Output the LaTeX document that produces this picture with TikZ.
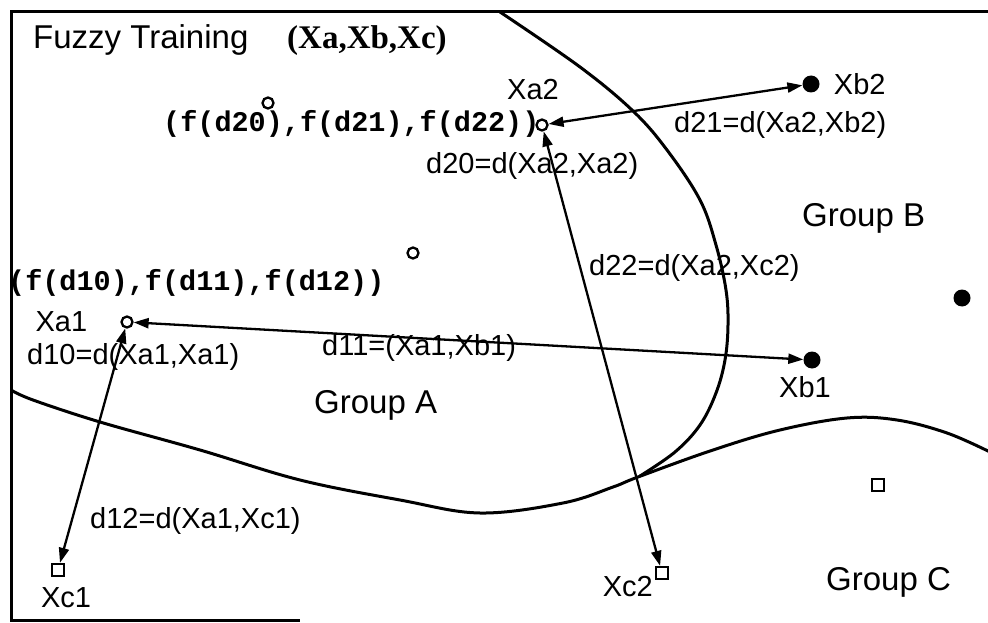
\documentclass[tikz,border=0pt]{standalone}
\usepackage{fontspec}
\setmainfont{Liberation Sans}
\newfontfamily\codefont{Liberation Mono}
\newfontfamily\tuplefont{Liberation Serif}
\usetikzlibrary{arrows.meta,positioning}

\begin{document}
\begin{tikzpicture}[x=1pt,y=-1pt,
  lbl/.style={font=\fontsize{29}{31}\selectfont, inner sep=0pt},
  grouplbl/.style={font=\fontsize{33}{36}\selectfont, inner sep=0pt},
  memb/.style={font=\fontsize{28.5}{30}\selectfont\codefont\bfseries, inner sep=0pt},
  opendot/.style={circle, draw, line width=2.3pt, minimum size=11pt, inner sep=0pt},
  fulldot/.style={circle, fill, minimum size=17pt, inner sep=0pt},
  sqbox/.style={rectangle, draw, line width=2.3pt, minimum size=12pt, inner sep=0pt},
  dist/.style={{Triangle[length=15pt,width=10pt]}-{Triangle[length=15pt,width=10pt]}, line width=2.3pt},
  boundary/.style={line width=3pt, line join=round}
]
\useasboundingbox (0,0) rectangle (988,623);

% frame
\draw[line width=3pt] (988,12) -- (11,12) -- (11,620) -- (300,620);

% class boundaries
\draw[boundary] plot[smooth, tension=0.6] coordinates {(500,12) (580,67) (633,111) (667,150)
  (700,200) (716,245) (726,290) (728,325) (725,360) (716,393) (700,425) (675,452) (640,476)};
\draw[boundary] plot[smooth, tension=0.6] coordinates {(11,390) (33,400) (100,422) (200,450)
  (300,480) (400,500) (480,513) (563,503) (613,487) (638,477) (713,450) (780,430) (847,418)
  (897,420) (947,433) (990,452)};

% samples
\node[opendot] (xa1) at (127,322) {};
\node[opendot] (xa2) at (542,125) {};
\node[opendot] (xa3) at (268,103) {};
\node[opendot] (xa4) at (413,253) {};
\node[fulldot] (xb1) at (812,360) {};
\node[fulldot] (xb2) at (811,84) {};
\node[fulldot] (xb3) at (962,298) {};
\node[sqbox] (xc1) at (58,570) {};
\node[sqbox] (xc2) at (662,573) {};
\node[sqbox] (xc3) at (878,485) {};

% distances
\draw[dist] (xa2) -- (xb2);
\draw[dist] (xa2) -- (xc2);
\draw[dist] (xa1) -- (xb1);
\draw[dist] (xa1) -- (xc1);

% texts
\node[font=\fontsize{33}{36}\selectfont, inner sep=0pt, anchor=base west] (title) at (33,49) {Fuzzy Training};
\node[font=\fontsize{33}{36}\selectfont\tuplefont\bfseries, inner sep=0pt, anchor=base west] (tuple) at (287,49) {(Xa,Xb,Xc)};
\node[memb, anchor=base west] (memb2) at (163,132) {(f(d20),f(d21),f(d22))};
\node[memb, anchor=base west] (memb1) at (8,290) {(f(d10),f(d11),f(d12))};

\node[lbl, left=33pt of xa1] (xa1lbl) {Xa1};
\node[lbl, above=18pt of xa2, xshift=-9pt] (xa2lbl) {Xa2};
\node[lbl, right=14pt of xb2] (xb2lbl) {Xb2};
\node[lbl, below=8pt of xb1, xshift=-7pt] (xb1lbl) {Xb1};
\node[lbl, below=10pt of xc1, xshift=8pt] (xc1lbl) {Xc1};
\node[lbl, anchor=base east] (xc2lbl) at (653,596) {Xc2};

\node[lbl, anchor=base west] (d10) at (27,364) {d10=d(Xa1,Xa1)};
\node[lbl, anchor=base west] (d11) at (322,355) {d11=(Xa1,Xb1)};
\node[lbl, anchor=base west] (d12) at (90,528) {d12=d(Xa1,Xc1)};
\node[lbl, anchor=base west] (d20) at (426,173) {d20=d(Xa2,Xa2)};
\node[lbl, anchor=base west] (d21) at (674,133) {d21=d(Xa2,Xb2)};
\node[lbl, anchor=base west] (d22) at (589,275) {d22=d(Xa2,Xc2)};

\node[grouplbl, anchor=base west] (grpa) at (314,413) {Group A};
\node[grouplbl, anchor=base west] (grpb) at (802,226) {Group B};
\node[grouplbl, anchor=base west] (grpc) at (826,590) {Group C};

\end{tikzpicture}
\end{document}
